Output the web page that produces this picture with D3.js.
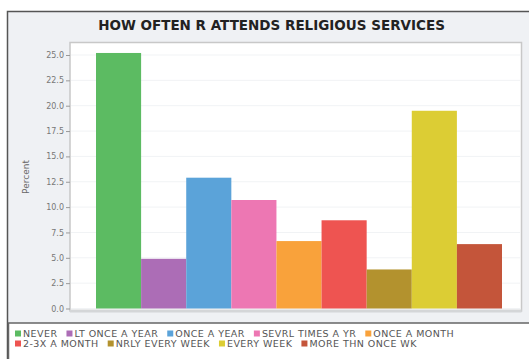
<!DOCTYPE html>
<html>
<head>
<meta charset="utf-8">
<script src="https://cdn.jsdelivr.net/npm/d3@7"></script>
<style>
  body { margin: 0; background: #fff; }
  svg { display: block; font-family: "DejaVu Sans", sans-serif; }
</style>
</head>
<body>
<div id="chart"></div>
<script>
var categories = ["NEVER", "LT ONCE A YEAR", "ONCE A YEAR", "SEVRL TIMES A YR", "ONCE A MONTH",
    "2-3X A MONTH", "NRLY EVERY WEEK", "EVERY WEEK", "MORE THN ONCE WK"];
var percents = [25.2, 4.9, 12.9, 10.7, 6.65, 8.7, 3.85, 19.5, 6.35];
var colors = ['#5cbb62', '#ac6db6', '#5ba3d9', '#ed77b3', '#f9a23b', '#ee5451', '#b3922e', '#dccd34', '#c4553a'];
var tickVals = [0, 2.5, 5, 7.5, 10, 12.5, 15, 17.5, 20, 22.5, 25];
var legendRows = [[0, 1, 2, 3, 4], [5, 6, 7, 8]];

var width = 529, height = 359;

var svg = d3.select('#chart').append('svg')
    .attr('width', width)
    .attr('height', height);

// outer frame
svg.append('rect')
    .attr('x', 7.5).attr('y', 11.5)
    .attr('width', 530).attr('height', 360)
    .style('fill', '#eff1f4')
    .style('stroke', '#555')
    .style('stroke-width', 1.5);

svg.append('text')
    .attr('x', 271.5).attr('y', 30)
    .attr('text-anchor', 'middle')
    .style('font-size', '13.5px')
    .style('font-weight', 'bold')
    .style('fill', '#222')
    .text('HOW OFTEN R ATTENDS RELIGIOUS SERVICES');

var plot = { left: 70, top: 42.5, right: 521.5, bottom: 311 };

var xscale = d3.scaleBand()
    .domain(categories)
    .range([96, 502])
    .padding(0);

var yscale = d3.scaleLinear()
    .domain([0, 25])
    .range([308.5, 55]);

// plot background
svg.append('rect')
    .attr('x', plot.left).attr('y', plot.top)
    .attr('width', plot.right - plot.left)
    .attr('height', plot.bottom - plot.top)
    .style('fill', '#fff')
    .style('stroke', '#c8c8c8')
    .style('stroke-width', 1.5);

// faint gridlines
svg.append('g')
    .selectAll('line')
    .data(tickVals)
    .enter()
    .append('line')
    .attr('x1', plot.left + 1).attr('x2', plot.right - 1)
    .attr('y1', function(d) { return yscale(d); })
    .attr('y2', function(d) { return yscale(d); })
    .style('stroke', '#f1f3f5')
    .style('stroke-width', 1);

// y axis
var yAxis = d3.axisLeft(yscale)
    .tickValues(tickVals)
    .tickSize(4)
    .tickPadding(2)
    .tickFormat(d3.format('.1f'));

var gy = svg.append('g')
    .attr('transform', 'translate(' + plot.left + ',0)')
    .call(yAxis);
gy.select('.domain').remove();
gy.selectAll('line').style('stroke', '#999');
gy.selectAll('text')
    .style('font-size', '8px')
    .style('fill', '#777')
    .style('font-family', '"DejaVu Sans", sans-serif');

svg.append('text')
    .attr('transform', 'translate(29,177) rotate(-90)')
    .attr('text-anchor', 'middle')
    .style('font-size', '9px')
    .style('fill', '#666')
    .text('Percent');

// bars
svg.append('g')
    .selectAll('rect')
    .data(percents)
    .enter()
    .append('rect')
    .attr('x', function(d, i) { return xscale(categories[i]); })
    .attr('y', function(d) { return yscale(d); })
    .attr('width', xscale.bandwidth())
    .attr('height', function(d) { return yscale(0) - yscale(d); })
    .style('fill', function(d, i) { return colors[i]; });

// bottom edge of plot
svg.append('rect')
    .attr('x', plot.left).attr('y', 309.5)
    .attr('width', plot.right - plot.left).attr('height', 3)
    .style('fill', '#d4d6d8');

// legend box
svg.append('rect')
    .attr('x', 8.5).attr('y', 323)
    .attr('width', 530).attr('height', 50)
    .style('fill', '#fff')
    .style('stroke', '#666')
    .style('stroke-width', 1.5);

var legend = svg.append('g');
legendRows.forEach(function(row, r) {
    var x = 15;
    var cy = 333.5 + r * 10;
    row.forEach(function(i) {
        legend.append('rect')
            .attr('x', x).attr('y', cy - 3)
            .attr('width', 6).attr('height', 6)
            .style('fill', colors[i]);
        var t = legend.append('text')
            .attr('x', x + 8).attr('y', cy + 3.3)
            .style('font-size', '9.5px')
            .style('letter-spacing', '0.45px')
            .style('fill', '#555')
            .text(categories[i]);
        x += 8 + t.node().getComputedTextLength() + 9;
    });
});
</script>
</body>
</html>
